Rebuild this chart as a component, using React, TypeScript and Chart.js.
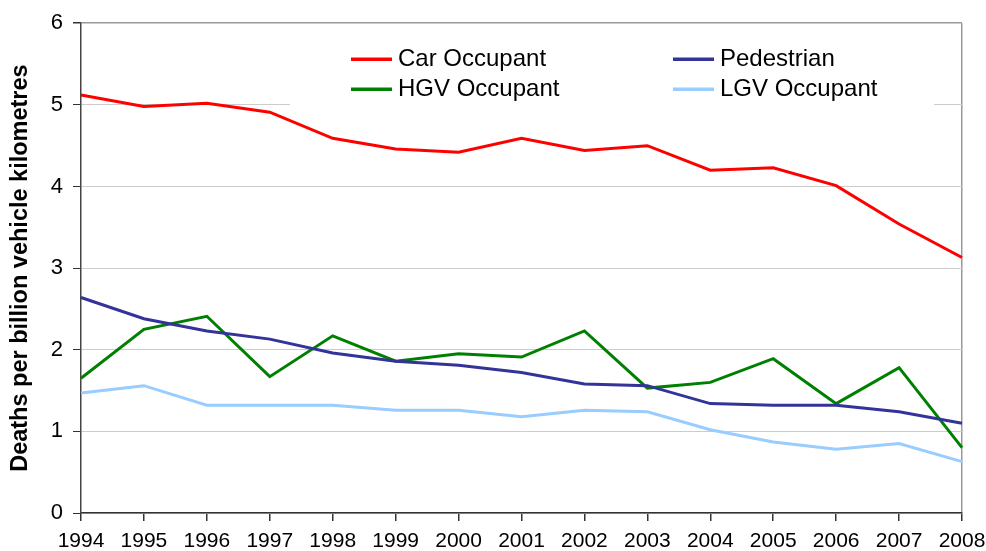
import React, { useEffect, useRef } from 'react';
import { Chart, registerables } from 'chart.js';

Chart.register(...registerables);

const years = ['1994', '1995', '1996', '1997', '1998', '1999', '2000', '2001', '2002', '2003', '2004', '2005', '2006', '2007', '2008'];
const carOccupant = [5.12, 4.98, 5.02, 4.91, 4.59, 4.46, 4.42, 4.59, 4.44, 4.5, 4.2, 4.23, 4.01, 3.54, 3.13];
const pedestrian = [2.64, 2.38, 2.23, 2.13, 1.96, 1.86, 1.81, 1.72, 1.58, 1.56, 1.34, 1.32, 1.32, 1.24, 1.1];
const hgvOccupant = [1.65, 2.25, 2.41, 1.67, 2.17, 1.86, 1.95, 1.91, 2.23, 1.53, 1.6, 1.89, 1.34, 1.78, 0.8];
const lgvOccupant = [1.47, 1.56, 1.32, 1.32, 1.32, 1.26, 1.26, 1.18, 1.26, 1.24, 1.02, 0.87, 0.78, 0.85, 0.63];
const seriesNames = ['Car Occupant', 'Pedestrian', 'HGV Occupant', 'LGV Occupant'];
const seriesColors = ['#ff0000', '#333399', '#008000', '#99ccff'];
const yMin = 0;
const yMax = 6;
const yStep = 1;
const yTitle = 'Deaths per billion vehicle kilometres';

const FONT = "'Liberation Sans', Arial, sans-serif";

const insideLegend = {
  id: 'insideLegend',
  beforeDatasetsDraw(chart: any) {
    const { ctx, chartArea } = chart;
    const ox = chartArea.left;
    const oy = chartArea.top;
    ctx.save();
    ctx.fillStyle = '#ffffff';
    ctx.fillRect(ox + 209, oy + 8, 644, 77);
    const colX = [ox + 270, ox + 592];
    const rowY = [oy + 36, oy + 66];
    ctx.font = `24px ${FONT}`;
    ctx.textBaseline = 'middle';
    ctx.textAlign = 'left';
    chart.data.datasets.forEach((ds: any, i: number) => {
      const x = colX[i % 2];
      const y = rowY[Math.floor(i / 2)];
      ctx.strokeStyle = ds.borderColor;
      ctx.lineWidth = 3.5;
      ctx.beginPath();
      ctx.moveTo(x, y);
      ctx.lineTo(x + 41, y);
      ctx.stroke();
      ctx.fillStyle = '#000000';
      ctx.fillText(ds.label, x + 47, y);
    });
    ctx.restore();
  },
};

export default function App() {
  const canvasRef = useRef<HTMLCanvasElement | null>(null);

  useEffect(() => {
    document.body.style.margin = '0';
    const canvas = canvasRef.current;
    if (!canvas) return;
    const values = [carOccupant, pedestrian, hgvOccupant, lgvOccupant];
    const chart = new Chart(canvas, {
      type: 'line',
      data: {
        labels: years,
        datasets: values.map((v, i) => ({
          label: seriesNames[i],
          data: v,
          borderColor: seriesColors[i],
          backgroundColor: seriesColors[i],
          borderWidth: 3,
          pointRadius: 0,
          tension: 0,
          fill: false,
        })),
      },
      options: {
        animation: false,
        responsive: false,
        maintainAspectRatio: false,
        layout: { padding: { top: 21, right: 24, left: 0, bottom: 0 } },
        plugins: {
          legend: { display: false },
          tooltip: { enabled: false },
        },
        scales: {
          x: {
            type: 'category',
            offset: false,
            afterFit: (scale: any) => {
              scale.height = 38;
              scale.paddingRight = 0;
              scale.paddingLeft = 0;
            },
            grid: {
              color: (c: any) => (c.index === years.length - 1 ? '#999999' : 'rgba(0,0,0,0)'),
              lineWidth: 1.5,
              tickColor: '#333333',
              tickLength: 8,
              drawTicks: true,
            },
            border: { color: '#333333', width: 1.5 },
            ticks: {
              autoSkip: false,
              maxRotation: 0,
              minRotation: 0,
              padding: 8,
              color: '#000000',
              font: { family: FONT, size: 21 },
            },
          },
          y: {
            min: yMin,
            max: yMax,
            afterFit: (scale: any) => {
              scale.width = 81;
            },
            grid: {
              color: (c: any) => (c.tick && c.tick.value === yMax ? '#999999' : '#cccccc'),
              lineWidth: (c: any) => (c.tick && c.tick.value === yMax ? 1.5 : 1),
              tickColor: '#333333',
              tickLength: 8,
            },
            border: { color: '#444444', width: 1.5 },
            ticks: {
              stepSize: yStep,
              padding: 10,
              color: '#000000',
              font: { family: FONT, size: 22 },
            },
            title: {
              display: true,
              text: yTitle,
              color: '#000000',
              font: { family: FONT, size: 23.5, weight: 'bold' },
              padding: { top: 6, bottom: 0 },
            },
          },
        },
      },
      plugins: [insideLegend],
    });
    return () => chart.destroy();
  }, []);

  return (
    <div style={{ width: 986, height: 551, background: '#ffffff' }}>
      <canvas ref={canvasRef} width={986} height={551} style={{ display: 'block' }} />
    </div>
  );
}
